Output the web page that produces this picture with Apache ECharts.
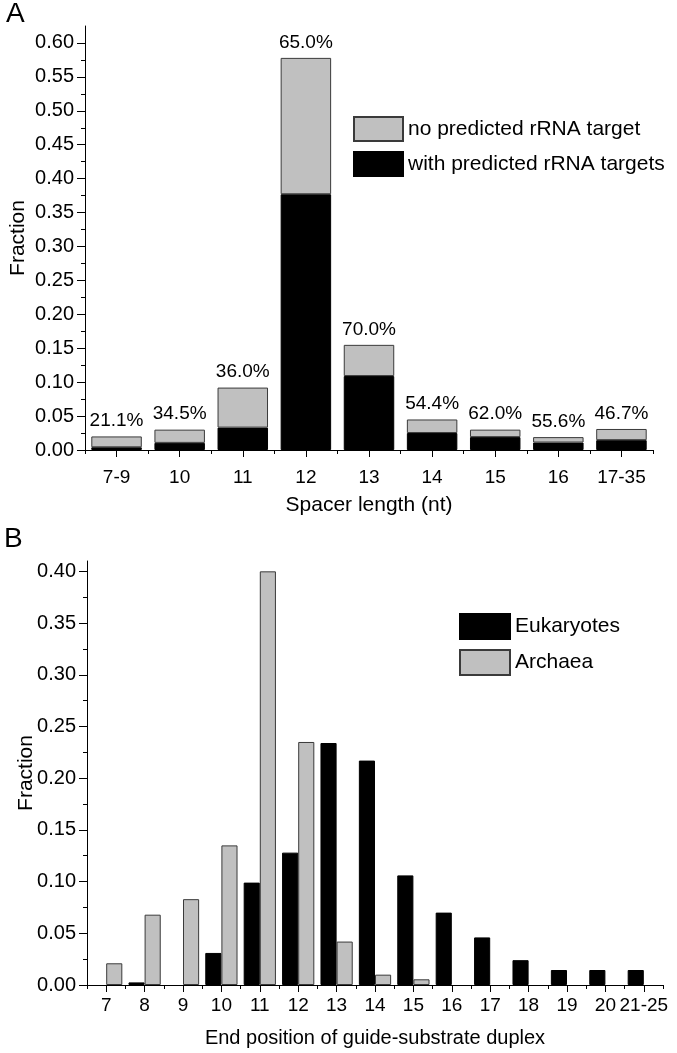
<!DOCTYPE html>
<html>
<head>
<meta charset="utf-8">
<script src="https://cdn.jsdelivr.net/npm/echarts@6/dist/echarts.min.js"></script>
<style>
html,body{margin:0;padding:0;background:#fff;}
#chart{width:677px;height:1053px;}
</style>
</head>
<body>
<div id="chart"></div>
<script>
// ---------- Panel A data ----------
const spacerCategories = ['7-9', '10', '11', '12', '13', '14', '15', '16', '17-35'];
const withTarget = [0.004, 0.0105, 0.033, 0.377, 0.109, 0.025, 0.019, 0.011, 0.0145];
const noTarget   = [0.016, 0.0195, 0.059, 0.201, 0.046, 0.020, 0.011, 0.008, 0.0165];
const pctLabels  = ['21.1%', '34.5%', '36.0%', '65.0%', '70.0%', '54.4%', '62.0%', '55.6%', '46.7%'];
const majorTicksA = [0, 0.05, 0.10, 0.15, 0.20, 0.25, 0.30, 0.35, 0.40, 0.45, 0.50, 0.55, 0.60];
const minorTicksA = [0.025, 0.075, 0.125, 0.175, 0.225, 0.275, 0.325, 0.375, 0.425, 0.475, 0.525, 0.575];

// ---------- Panel B data ----------
const endCategories = ['7', '8', '9', '10', '11', '12', '13', '14', '15', '16', '17', '18', '19', '20', '21-25'];
const eukaryotes = [0, 0.0025, 0, 0.031, 0.099, 0.128, 0.234, 0.217, 0.106, 0.070, 0.046, 0.024, 0.0145, 0.0145, 0.0145];
const archaea    = [0.021, 0.068, 0.083, 0.135, 0.400, 0.235, 0.042, 0.010, 0.0055, 0, 0, 0, 0, 0, 0];
const majorTicksB = [0, 0.05, 0.10, 0.15, 0.20, 0.25, 0.30, 0.35, 0.40];
const minorTicksB = [0.025, 0.075, 0.125, 0.175, 0.225, 0.275, 0.325, 0.375];

const FONT = 'Liberation Sans, Arial, sans-serif';
const GRAY = '#c0c0c0';
const EDGE = '#3a3a3a';
const nz = arr => arr.map(v => (v === 0 ? '-' : v));

const chart = echarts.init(document.getElementById('chart'), null, {renderer: 'canvas'});

function yAxes(gridIndex, max, majors, minors, nameGap) {
  return [
    {
      type: 'value', gridIndex, min: 0, max, position: 'left',
      name: 'Fraction', nameLocation: 'middle', nameGap, nameMoveOverlap: false,
      nameTextStyle: {fontFamily: FONT, fontSize: 21, color: '#000'},
      axisLine: {show: true, lineStyle: {color: '#000', width: 1}},
      axisTick: {show: true, length: 8, customValues: majors, lineStyle: {color: '#000'}},
      axisLabel: {show: true, customValues: majors, margin: 11, fontFamily: FONT, fontSize: 20, color: '#000',
        formatter: v => v.toFixed(2)},
      splitLine: {show: false}
    },
    {
      type: 'value', gridIndex, min: 0, max, position: 'left', offset: 0,
      axisLine: {show: false},
      axisTick: {show: true, length: 4, customValues: minors, lineStyle: {color: '#000'}},
      axisLabel: {show: false},
      splitLine: {show: false}
    }
  ];
}

function xAxes(gridIndex, cats, name, nameGap, labelMargin, nameSize) {
  return [
    {
      type: 'category', gridIndex, data: cats, position: 'bottom',
      name, nameLocation: 'middle', nameGap, nameMoveOverlap: false,
      nameTextStyle: {fontFamily: FONT, fontSize: nameSize, color: '#000'},
      axisLine: {show: true, onZero: false, lineStyle: {color: '#000', width: 1}},
      axisTick: {show: true, alignWithLabel: true, length: 7, lineStyle: {color: '#000'}},
      axisLabel: {show: true, interval: 0, margin: labelMargin, fontFamily: FONT, fontSize: 19, color: '#000'},
      splitLine: {show: false}
    },
    {
      type: 'category', gridIndex, data: cats, position: 'bottom', offset: 0,
      axisLine: {show: false, onZero: false},
      axisTick: {show: true, interval: 0, length: 4, lineStyle: {color: '#000'}},
      axisLabel: {show: false},
      splitLine: {show: false}
    }
  ];
}

const yA = yAxes(0, 0.625, majorTicksA, minorTicksA, 56);
const yB = yAxes(1, 0.41, majorTicksB, minorTicksB, 50);
const xA = xAxes(0, spacerCategories, 'Spacer length (nt)', 45, 18, 21);
const xB = xAxes(1, endCategories, 'End position of guide-substrate duplex', 43, 11, 20);

const option = {
  animation: false,
  backgroundColor: '#fff',
  textStyle: {fontFamily: FONT},
  grid: [
    {left: 81, top: 26, width: 572, height: 424},
    {left: 87, top: 561, width: 576, height: 424}
  ],
  xAxis: [xA[0], xA[1], xB[0], xB[1]],
  yAxis: [yA[0], yA[1], yB[0], yB[1]],
  legend: [
    {
      data: ['no predicted rRNA target', 'with predicted rRNA targets'],
      orient: 'vertical', left: 353, top: 116, padding: 0,
      itemWidth: 49, itemHeight: 24, itemGap: 9,
      icon: 'rect',
      textStyle: {fontFamily: FONT, fontSize: 21, color: '#000'}
    },
    {
      data: ['Eukaryotes', 'Archaea'],
      orient: 'vertical', left: 459, top: 613, padding: 0,
      itemWidth: 50, itemHeight: 25, itemGap: 9,
      icon: 'rect',
      textStyle: {fontFamily: FONT, fontSize: 21, color: '#000'}
    }
  ],
  graphic: [
    {type: 'text', left: 6, top: 0, style: {text: 'A', font: '28px ' + FONT, fill: '#000'}},
    {type: 'text', left: 4, top: 525, style: {text: 'B', font: '28px ' + FONT, fill: '#000'}}
  ],
  series: [
    {
      name: 'with predicted rRNA targets', type: 'bar', stack: 'a',
      xAxisIndex: 0, yAxisIndex: 0, data: withTarget,
      barCategoryGap: '20%',
      itemStyle: {color: '#000', borderColor: '#000', borderWidth: 1}
    },
    {
      name: 'no predicted rRNA target', type: 'bar', stack: 'a',
      xAxisIndex: 0, yAxisIndex: 0, data: noTarget,
      barCategoryGap: '20%',
      itemStyle: {color: GRAY, borderColor: EDGE, borderWidth: 1},
      label: {show: true, position: 'top', distance: 6, fontFamily: FONT, fontSize: 19, color: '#000',
        formatter: p => pctLabels[p.dataIndex]}
    },
    {
      name: 'Eukaryotes', type: 'bar',
      xAxisIndex: 2, yAxisIndex: 2, data: nz(eukaryotes),
      barGap: '0%', barCategoryGap: '16%',
      itemStyle: {color: '#000', borderColor: '#000', borderWidth: 1}
    },
    {
      name: 'Archaea', type: 'bar',
      xAxisIndex: 2, yAxisIndex: 2, data: nz(archaea),
      barGap: '0%', barCategoryGap: '16%',
      itemStyle: {color: GRAY, borderColor: EDGE, borderWidth: 1}
    }
  ]
};
chart.setOption(option);
</script>
</body>
</html>
